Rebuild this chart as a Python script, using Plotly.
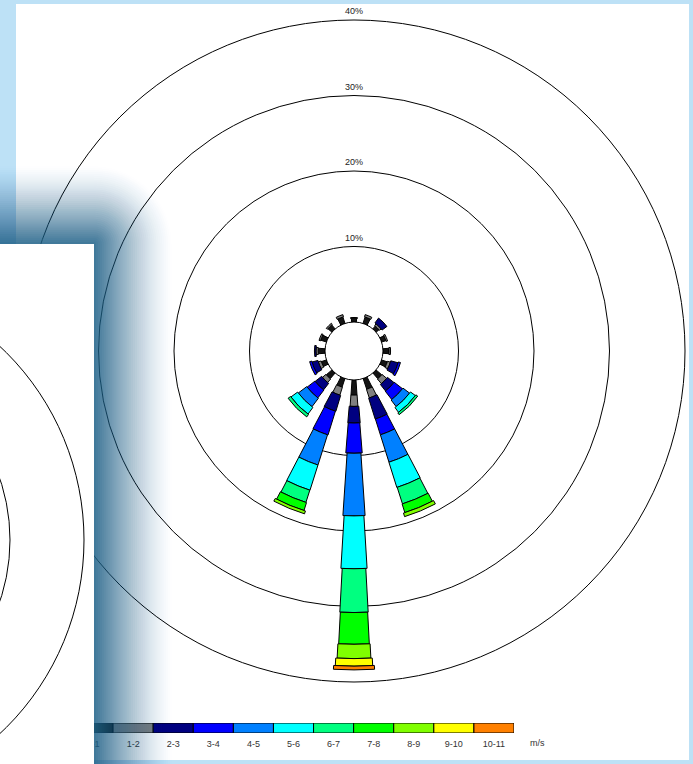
import math
import plotly.graph_objects as go

# ---- data -------------------------------------------------------------
DIRECTIONS = ["N", "NNE", "NE", "ENE", "E", "ESE", "SE", "SSE",
              "S", "SSW", "SW", "WSW", "W", "WNW", "NW", "NNW"]
SPEED_CLASSES = ["0-1", "1-2", "2-3", "3-4", "4-5", "5-6",
                 "6-7", "7-8", "8-9", "9-10", "10-11"]
CLASS_COLORS = ["#141414", "#808080", "#000080", "#0000ff", "#0080ff", "#00ffff",
                "#00ff80", "#00ff00", "#80ff00", "#ffff00", "#ff8000"]
SPEED_UNIT = "m/s"

# frequency (%) per direction, one list per wind-speed class
F_0_1 = [0.5, 0.9, 0.5, 0.6, 0.8, 0.8, 1.0, 1.5, 2.0, 1.2, 1.0, 0.7, 0.9, 0.8, 0.7, 0.9]
F_1_2 = [0.1, 0.3, 0.3, 0.2, 0.2, 0.4, 0.8, 1.2, 1.5, 1.1, 0.6, 0.4, 0.3, 0.2, 0.2, 0.3]
F_2_3 = [0.0, 0.0, 0.8, 0.0, 0.0, 1.0, 1.1, 2.9, 2.2, 2.2, 1.1, 0.8, 0.2, 0.0, 0.0, 0.0]
F_3_4 = [0.0, 0.0, 0.0, 0.0, 0.0, 0.3, 1.4, 2.2, 4.0, 3.3, 1.3, 0.3, 0.0, 0.0, 0.0, 0.0]
F_4_5 = [0.0, 0.0, 0.0, 0.0, 0.0, 0.0, 1.1, 3.8, 8.3, 4.2, 1.4, 0.0, 0.0, 0.0, 0.0, 0.0]
F_5_6 = [0.0, 0.0, 0.0, 0.0, 0.0, 0.0, 0.8, 3.5, 7.0, 3.5, 1.1, 0.0, 0.0, 0.0, 0.0, 0.0]
F_6_7 = [0.0, 0.0, 0.0, 0.0, 0.0, 0.0, 0.3, 2.3, 5.8, 1.7, 0.4, 0.0, 0.0, 0.0, 0.0, 0.0]
F_7_8 = [0.0, 0.0, 0.0, 0.0, 0.0, 0.0, 0.0, 1.2, 4.2, 1.1, 0.0, 0.0, 0.0, 0.0, 0.0, 0.0]
F_8_9 = [0.0, 0.0, 0.0, 0.0, 0.0, 0.0, 0.0, 0.5, 1.9, 0.4, 0.0, 0.0, 0.0, 0.0, 0.0, 0.0]
F_9_10 = [0.0, 0.0, 0.0, 0.0, 0.0, 0.0, 0.0, 0.0, 1.0, 0.0, 0.0, 0.0, 0.0, 0.0, 0.0, 0.0]
F_10_11 = [0.0, 0.0, 0.0, 0.0, 0.0, 0.0, 0.0, 0.0, 0.5, 0.0, 0.0, 0.0, 0.0, 0.0, 0.0, 0.0]
FREQUENCIES = [F_0_1, F_1_2, F_2_3, F_3_4, F_4_5, F_5_6,
               F_6_7, F_7_8, F_8_9, F_9_10, F_10_11]

RING_VALUES = [10, 20, 30, 40]
RING_LABELS = ["10%", "20%", "30%", "40%"]

# ---- geometry / styling ----------------------------------------------
W, H = 693, 764
CX, CY = 354, 351          # rose centre (px, from top-left)
R_OUT = 331                # radius of the outermost ring (px)
R_HOLE = 29                # calm-circle radius (px)
R_MAX = 40                 # radial range (%)
SEG_PX = [5, 7, 11, 14, 18, 23, 26, 29, 33, 37, 41]   # segment thickness per class (px)

BG_BLUE = "#bde1f6"
SHADOW_RGB = (36, 102, 142)


def px_r(v):
    return R_HOLE + (R_OUT - R_HOLE) * v / R_MAX


def px(x):
    return x / W


def py(y):
    return 1 - y / H


fig = go.Figure()

# ---- wind-rose bars ----------------------------------------------------
n_dir = len(DIRECTIONS)
theta_all = [i * 360.0 / n_dir for i in range(n_dir)]
cum = [0.0] * n_dir
for k, (name, vals) in enumerate(zip(SPEED_CLASSES, FREQUENCIES)):
    th, rr, ww, bb = [], [], [], []
    for i, v in enumerate(vals):
        if v > 0:
            mid = px_r(cum[i] + v / 2)
            th.append(theta_all[i])
            rr.append(v)
            bb.append(cum[i])
            ww.append(math.degrees(SEG_PX[k] / mid))
    if th:
        fig.add_trace(go.Barpolar(
            theta=th, r=rr, base=bb, width=ww, name=name,
            marker=dict(color=CLASS_COLORS[k], line=dict(color="black", width=1)),
            showlegend=False, hoverinfo="skip",
        ))
    for i, v in enumerate(vals):
        cum[i] += v

# ---- speed-class colour scale -------------------------------------------
fig.add_trace(go.Bar(
    x=list(range(len(SPEED_CLASSES))), y=[1] * len(SPEED_CLASSES), width=1,
    marker=dict(color=CLASS_COLORS, line=dict(color="black", width=1)),
    xaxis="x2", yaxis="y2", showlegend=False, hoverinfo="skip",
))

# ---- background panels and window shadow --------------------------------
shapes = [dict(type="rect", xref="paper", yref="paper",
               x0=px(16), x1=px(689), y0=py(760), y1=py(4),
               fillcolor="white", line=dict(width=0), layer="below")]

WX, WY = 94, 244          # top-right corner of the foreground window
N_SH, D_SH = 40, 78


def shadow_opacity(d):
    t = max(0.0, 1 - d / D_SH)
    return 0.86 * t ** 1.35


# stacked translucent bands: band k reaches distance d_k from the window edge
dists = [D_SH * (k + 1) / N_SH for k in range(N_SH)]
trans = [1 - shadow_opacity(d - D_SH / (2 * N_SH)) for d in dists]
for k in range(N_SH - 1, -1, -1):
    outer = trans[k + 1] if k + 1 < N_SH else 1.0
    a = 1 - trans[k] / outer
    d = dists[k]
    c = 0.552 * d
    path = (f"M {px(0)},{py(WY - d)} L {px(WX)},{py(WY - d)} "
            f"C {px(WX + c)},{py(WY - d)} {px(WX + d)},{py(WY - c)} {px(WX + d)},{py(WY)} "
            f"L {px(WX + d)},{py(H)} L {px(0)},{py(H)} Z")
    shapes.append(dict(type="path", path=path, xref="paper", yref="paper",
                       fillcolor=f"rgba({SHADOW_RGB[0]},{SHADOW_RGB[1]},{SHADOW_RGB[2]},{a:.4f})",
                       line=dict(width=0), layer="above"))

shapes.append(dict(type="rect", xref="paper", yref="paper",
                   x0=px(0), x1=px(WX), y0=py(H), y1=py(WY),
                   fillcolor="white", line=dict(width=0), layer="above"))
# rings of the chart in the foreground window
for rad in (191, 265):
    shapes.append(dict(type="circle", xref="paper", yref="paper",
                       x0=px(-181 - rad), x1=px(-181 + rad),
                       y0=py(540 + rad), y1=py(540 - rad),
                       line=dict(color="black", width=1), layer="above"))

# ---- ring labels and unit -----------------------------------------------
annotations = []
for v, lab in zip(RING_VALUES, RING_LABELS):
    annotations.append(dict(text=lab, xref="paper", yref="paper",
                            x=px(CX), y=py(CY - px_r(v) - 9),
                            xanchor="center", yanchor="middle", showarrow=False,
                            font=dict(family="Liberation Sans", size=9, color="#222")))
annotations.append(dict(text=SPEED_UNIT, xref="paper", yref="paper",
                        x=px(537), y=py(743),
                        xanchor="center", yanchor="middle", showarrow=False,
                        font=dict(family="Liberation Sans", size=9, color="#333")))

fig.update_layout(
    width=W, height=H, margin=dict(l=0, r=0, t=0, b=0),
    paper_bgcolor=BG_BLUE, plot_bgcolor="rgba(0,0,0,0)",
    showlegend=False,
    polar=dict(
        domain=dict(x=[px(CX - R_OUT), px(CX + R_OUT)], y=[py(CY + R_OUT), py(CY - R_OUT)]),
        hole=R_HOLE / R_OUT, bgcolor="rgba(0,0,0,0)", barmode="stack",
        radialaxis=dict(range=[0, R_MAX], tickvals=RING_VALUES, showticklabels=False,
                        ticks="", showline=False, gridcolor="black", gridwidth=1),
        angularaxis=dict(rotation=90, direction="clockwise", showgrid=False,
                         showticklabels=False, ticks="", showline=True,
                         linecolor="black", linewidth=1),
    ),
    xaxis2=dict(domain=[px(73), px(514)], range=[-0.5, 10.5], anchor="y2",
                tickvals=list(range(len(SPEED_CLASSES))), ticktext=SPEED_CLASSES,
                ticks="", showgrid=False, zeroline=False, showline=False,
                ticklabelstandoff=4,
                tickfont=dict(family="Liberation Sans", size=9, color="#333")),
    yaxis2=dict(domain=[py(733), py(723)], range=[0, 1], anchor="x2",
                showticklabels=False, ticks="", showgrid=False, zeroline=False),
    xaxis=dict(visible=False), yaxis=dict(visible=False),
    shapes=shapes, annotations=annotations,
)

fig.write_html("out.html")
